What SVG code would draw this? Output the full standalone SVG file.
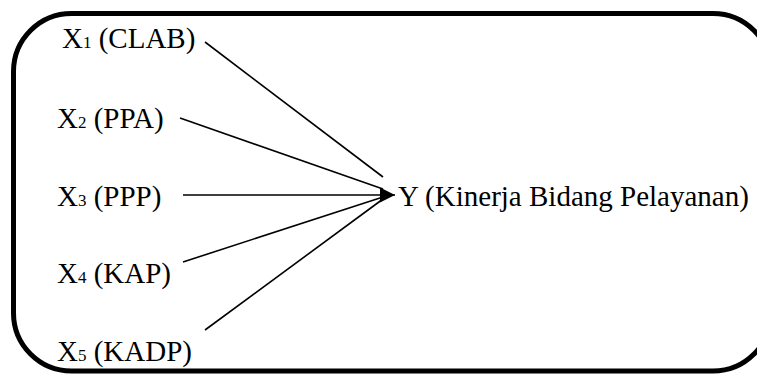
<svg xmlns="http://www.w3.org/2000/svg" width="757" height="374" viewBox="0 0 757 374">
<style>
text{font-family:"Liberation Serif","Times New Roman",serif;font-size:29px;fill:#000}
.sub{font-size:17px}
.frame{fill:none;stroke:#000;stroke-width:5}
.conn line{stroke:#000;stroke-width:1.6}
</style>
<defs>
<marker id="ah" viewBox="0 0 10 10" refX="10" refY="5" markerWidth="9" markerHeight="9" markerUnits="userSpaceOnUse" orient="auto">
<path d="M0,0 L10,5 L0,10 z" fill="#000"/>
</marker>
<marker id="ahb" viewBox="0 0 10 10" refX="10" refY="5" markerWidth="15" markerHeight="15" markerUnits="userSpaceOnUse" orient="auto">
<path d="M0,0 L10,5 L0,10 z" fill="#000"/>
</marker>
</defs>
<rect class="frame" x="13.5" y="13.5" width="757.5" height="357.5" rx="58" ry="58"/>
<g id="x1"><text x="62" y="48">X<tspan class="sub">1</tspan> (CLAB)</text></g>
<g id="x2"><text x="57" y="128">X<tspan class="sub">2</tspan> (PPA)</text></g>
<g id="x3"><text x="57" y="206">X<tspan class="sub">3</tspan> (PPP)</text></g>
<g id="x4"><text x="57" y="283">X<tspan class="sub">4</tspan> (KAP)</text></g>
<g id="x5"><text x="57" y="361">X<tspan class="sub">5</tspan> (KADP)</text></g>
<g id="y"><text x="398" y="206">Y (Kinerja Bidang Pelayanan)</text></g>
<g class="conn" id="connectors">
<line x1="205" y1="42" x2="383" y2="177"/>
<line x1="180" y1="118" x2="383" y2="189"/>
<line x1="183" y1="195" x2="395" y2="195" marker-end="url(#ahb)"/>
<line x1="183" y1="262" x2="383" y2="197"/>
<line x1="205" y1="330" x2="383" y2="199"/>
</g>
</svg>
